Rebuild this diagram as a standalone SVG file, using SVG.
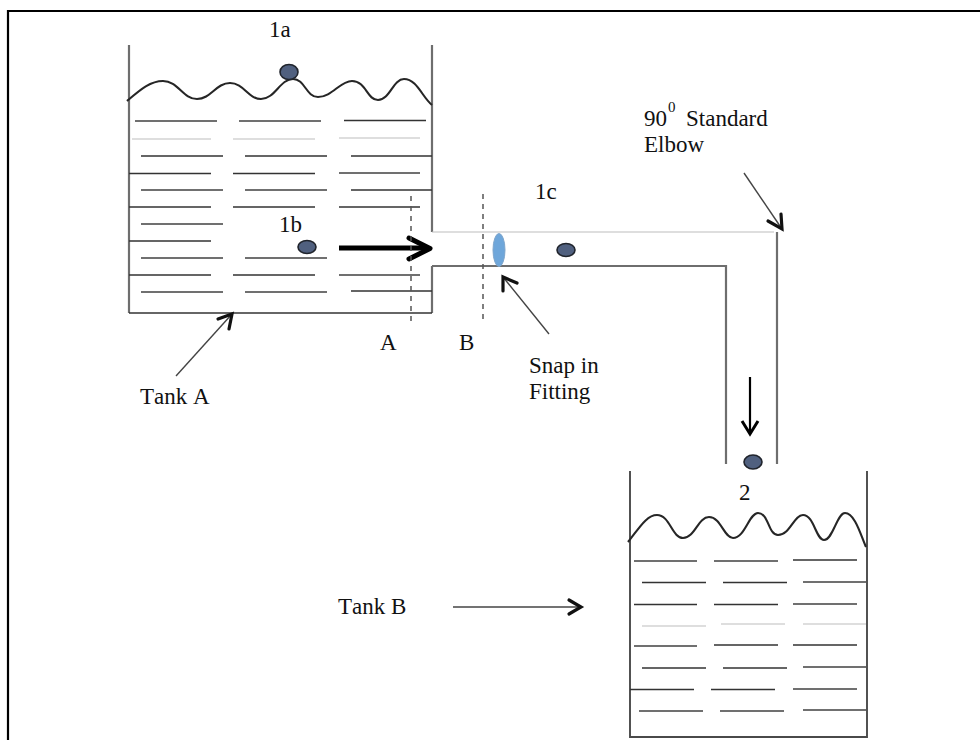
<svg xmlns="http://www.w3.org/2000/svg" width="980" height="740" viewBox="0 0 980 740">
<style>
text{font-family:"Liberation Serif","Times New Roman",serif;font-size:23px;font-kerning:none;fill:#111}
.b{stroke:#000;stroke-width:2.2;fill:none}
.w{stroke:#6e6e6e;stroke-width:2.2;fill:none}
.wb{stroke:#4a4a4a;stroke-width:1.9;fill:none}
.wd{stroke:#333;stroke-width:1.7;fill:none}
.r{stroke:#707070;stroke-width:1.9;fill:none}
.d{stroke:#333;stroke-width:1.5;fill:none}
.l{stroke:#bdbdbd;stroke-width:1.2;fill:none}
.wave{stroke:#262626;stroke-width:2.1;fill:none;stroke-linejoin:round}
.ball{fill:#50607f;stroke:#20242c;stroke-width:1.6}
.dash{stroke:#555;stroke-width:1.5;stroke-dasharray:5 5;fill:none}
.a{stroke:#444;stroke-width:1.4;fill:none}
.h{stroke:#111;stroke-width:3.2;fill:none;stroke-linecap:round;stroke-linejoin:miter}
</style>
<g id="frame">
<path class="b" d="M8 740V11H980"/>
</g>
<g id="tank-a">
<path class="w" d="M129 45V313M432 313V266M432 45V232"/>
<path class="wd" d="M129 313H432"/>
<path class="wave" d="M127 101C140 90 150 81 163 81C178 81 183 99 197 99C211 99 216 83 230 83C244 83 248 99 261 99C275 99 280 79 293 79C305 79 306 97 318 97C332 97 340 81 352 81C366 81 367 100 378 100C390 100 393 79 404 79C417 79 422 97 432 105"/>
<path class="r" d="M135 121H217M239 121H321M141 190H223M245 190H327M141 224H223M141 258H223M245 258H327M141 292H223M245 292H327M339 173H420M339 275H420"/>
<path class="d" d="M344 120.500H426M141 156H223M245 156H327M351 156H432M129 173.500H211M233 173.500H315M351 190H432M129 207H211M233 207H315M339 207H420M129 241H211M129 275H211M233 275H315M351 291H432"/>
<path class="l" d="M132 139H211M233 139H315M339 138H420"/>
<ellipse class="ball" cx="289" cy="72" rx="9" ry="7.500"/>
<ellipse class="ball" cx="307" cy="247" rx="9" ry="6.500"/>
<text x="269" y="37">1a</text>
<text x="279" y="232">1b</text>
</g>
<g id="pipe">
<path class="l" d="M432 232H774"/>
<path class="w" d="M432 266H726V464M777 232V464"/>
<ellipse cx="499" cy="250" rx="6" ry="16.500" fill="#6ea6da" stroke="#7fa6cc" stroke-width="1"/>
<ellipse class="ball" cx="566" cy="250" rx="9" ry="6.500"/>
<text x="535" y="199">1c</text>
</g>
<g id="tank-b">
<path class="wb" d="M630 471V737H867V471"/>
<path class="wave" d="M628 542C638 530 646 515 657 515C670 515 672 538 683 538C695 538 698 517 709 517C721 517 724 538 733 538C745 538 749 513 758 513C769 513 768 535 778 535C790 535 794 515 803 515C814 515 816 540 824 540C833 540 837 513 845 513C855 513 861 536 866 547"/>
<path class="r" d="M634 561H697M714 561H778M803 582H866M793 604H857M634 646H697M803 667H866M793 689H857M639 711H703M720 711H784M803 710H866"/>
<path class="d" d="M793 560H857M642 582.500H706M723 582.500H787M634 604.500H697M714 604.500H778M714 645H778M793 645H857M642 668H706M723 668H787M630 689.500H694M711 689.500H775"/>
<path class="l" d="M642 626H706M721 624H785M803 624H866"/>
<ellipse class="ball" cx="753" cy="462" rx="9" ry="7"/>
<text x="739" y="500">2</text>
</g>
<g id="connectors">
<path d="M339 248H428" stroke="#000" stroke-width="5" fill="none"/>
<path d="M409 238L430 248.500L409 259" stroke="#000" stroke-width="5" fill="none" stroke-linecap="round" stroke-linejoin="round"/>
<path class="dash" d="M411 196V322"/>
<path class="dash" d="M483 194V322"/>
<path class="a" d="M549 334L503 277"/>
<path class="h" d="M503 291L503 277L517 283"/>
<path class="a" d="M744 173L782 229"/>
<path class="h" d="M768 221L782 229L781 214"/>
<path class="a" d="M176 376L232 314"/>
<path class="h" d="M218 319L232 314L229 329"/>
<path class="a" d="M453 607H580"/>
<path class="h" d="M569 600L581 607L569 614"/>
<path d="M750 377V432" stroke="#000" stroke-width="2.200" fill="none"/>
<path d="M742 421L750 434L758 421" stroke="#000" stroke-width="3" fill="none"/>
</g>
<g id="labels">
<text x="380" y="350">A</text>
<text x="459" y="350">B</text>
<text x="140" y="404">Tank A</text>
<text x="529" y="373">Snap in</text>
<text x="529" y="399">Fitting</text>
<text x="644" y="126">90</text>
<text x="668" y="112" style="font-size:15px">0</text>
<text x="686" y="126">Standard</text>
<text x="644" y="152">Elbow</text>
<text x="338" y="614">Tank B</text>
</g>
</svg>
